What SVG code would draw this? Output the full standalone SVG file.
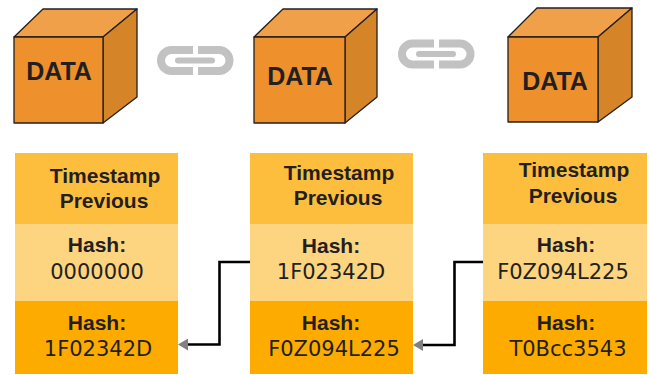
<svg xmlns="http://www.w3.org/2000/svg" width="649" height="375" viewBox="0 0 649 375">
  <style>
    .front { fill: #EE912C; stroke: #231F20; stroke-width: 1.3; stroke-linejoin: round; }
    .top { fill: #EFA049; stroke: #231F20; stroke-width: 1.3; stroke-linejoin: round; }
    .side { fill: #D58528; stroke: #231F20; stroke-width: 1.3; stroke-linejoin: round; }
    .data { font-family: "Liberation Sans", Arial, sans-serif; font-weight: bold; font-size: 25px; fill: #231F20; text-anchor: middle; }
    .link { fill: none; stroke: #C2C2C2; stroke-width: 8; }
    .bar { fill: none; stroke: #C2C2C2; stroke-width: 6; stroke-linecap: round; }
    .sec-top { fill: #FDBE3E; }
    .sec-mid { fill: #FDD47F; }
    .sec-bot { fill: #FEAB00; }
    .lbl { font-family: "Liberation Sans", Arial, sans-serif; font-weight: bold; font-size: 21px; fill: #231F20; text-anchor: middle; }
    .val { font-family: "DejaVu Sans", "Liberation Sans", sans-serif; font-size: 21px; fill: #231F20; text-anchor: middle; }
    .wire { fill: none; stroke: #000; stroke-width: 2.6; }
  </style>
  <defs>
    <marker id="arrow" markerWidth="10" markerHeight="12" refX="1" refY="6" orient="auto" markerUnits="userSpaceOnUse">
      <path d="M0,0 L10,6 L0,12 Z" fill="#808080"/>
    </marker>
  </defs>

  <!-- data cubes -->
  <g id="cube1">
    <polygon class="top" points="14,37 43,9 137,9 103,37"/>
    <polygon class="side" points="103,37 137,9 137,97 103,123"/>
    <rect class="front" x="14" y="37" width="89" height="86"/>
    <text class="data" x="59" y="80">DATA</text>
  </g>
  <g id="cube2">
    <polygon class="top" points="254,37 283,9 377,9 345,37"/>
    <polygon class="side" points="345,37 377,9 377,97 345,123"/>
    <rect class="front" x="254" y="37" width="91" height="86"/>
    <text class="data" x="300" y="85">DATA</text>
  </g>
  <g id="cube3">
    <polygon class="top" points="508,37 537,8 632,8 598,37"/>
    <polygon class="side" points="598,37 632,8 632,97 598,122"/>
    <rect class="front" x="508" y="37" width="90" height="85"/>
    <text class="data" x="555" y="90">DATA</text>
  </g>

  <!-- chain links between cubes -->
  <g id="chain1">
    <path class="link" d="M193,50 H171.5 A10.5,10.5 0 0 0 171.5,71 H193"/>
    <path class="link" d="M198,50 H219 A10.5,10.5 0 0 1 219,71 H198"/>
    <path class="bar" d="M178,60.5 H212"/>
  </g>
  <g id="chain2">
    <path class="link" d="M434,43.5 H412.5 A10.5,10.5 0 0 0 412.5,64.5 H434"/>
    <path class="link" d="M439,43.5 H460 A10.5,10.5 0 0 1 460,64.5 H439"/>
    <path class="bar" d="M419,54 H453"/>
  </g>

  <!-- blocks -->
  <g id="block1">
    <rect class="sec-top" x="15" y="153" width="163" height="71"/>
    <rect class="sec-mid" x="15" y="224" width="163" height="77"/>
    <rect class="sec-bot" x="15" y="301" width="163" height="73"/>
    <text class="lbl" x="105" y="183">Timestamp</text>
    <text class="lbl" x="104" y="208">Previous</text>
    <text class="lbl" x="97" y="252">Hash:</text>
    <text class="val" x="97" y="279">0000000</text>
    <text class="lbl" x="97" y="330">Hash:</text>
    <text class="val" x="98" y="356">1F02342D</text>
  </g>
  <g id="block2">
    <rect class="sec-top" x="250" y="153" width="163" height="71"/>
    <rect class="sec-mid" x="250" y="224" width="163" height="77"/>
    <rect class="sec-bot" x="250" y="301" width="163" height="73"/>
    <text class="lbl" x="339" y="180">Timestamp</text>
    <text class="lbl" x="338" y="205">Previous</text>
    <text class="lbl" x="331" y="253">Hash:</text>
    <text class="val" x="331" y="279">1F02342D</text>
    <text class="lbl" x="331" y="330">Hash:</text>
    <text class="val" x="334" y="356">F0Z094L225</text>
  </g>
  <g id="block3">
    <rect class="sec-top" x="483" y="153" width="164" height="71"/>
    <rect class="sec-mid" x="483" y="224" width="164" height="77"/>
    <rect class="sec-bot" x="483" y="301" width="164" height="73"/>
    <text class="lbl" x="574" y="177">Timestamp</text>
    <text class="lbl" x="573" y="203">Previous</text>
    <text class="lbl" x="566" y="252">Hash:</text>
    <text class="val" x="563" y="279">F0Z094L225</text>
    <text class="lbl" x="566" y="330">Hash:</text>
    <text class="val" x="568" y="356">T0Bcc3543</text>
  </g>

  <!-- hash links -->
  <g id="connectors">
    <path class="wire" d="M250,262 H219.5 V344.5 H187" marker-end="url(#arrow)"/>
    <path class="wire" d="M483,262 H454.5 V345 H422" marker-end="url(#arrow)"/>
  </g>
</svg>
